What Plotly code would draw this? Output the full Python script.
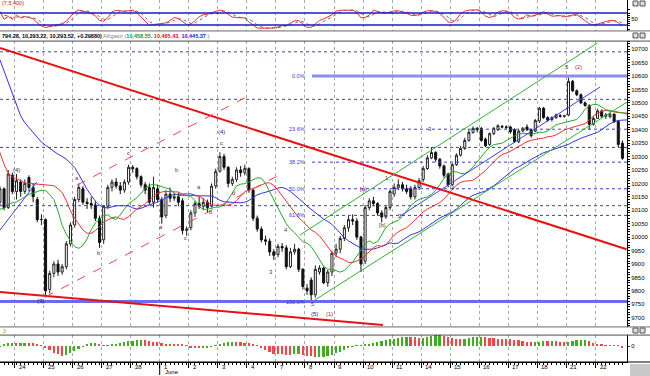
import plotly.graph_objects as go
from plotly.subplots import make_subplots

# ---------------- data (hourly bars, 21 May .. 22 June) ----------------
bar_open = [10130, 10180, 10110, 10230,
            10170, 10205, 10170, 10222, 10185, 10140, 10065,
            10065, 9805, 9865, 9900, 9870, 9890, 9975,
            10045, 10140, 10180, 10130, 10125, 10120, 10070,
            9990, 10115, 10185, 10205, 10190, 10175, 10205,
            10260, 10255, 10225, 10195, 10185, 10130, 10180,
            10140, 10080, 10160, 10145, 10150, 10135, 10025,
            10035, 10090, 10125, 10115, 10130, 10115, 10190,
            10245, 10300, 10260, 10200, 10215, 10250, 10240,
            10255, 10175, 10070, 10030, 9990, 9985, 9945,
            9935, 9965, 9960, 9890, 9945, 9955, 9880,
            9810, 9840, 9785, 9870, 9885, 9830, 9870,
            9940, 9955, 9995, 10035, 10065, 10060, 10000,
            9910, 10110, 10135, 10125, 10090, 10075, 10110,
            10160, 10185, 10195, 10180, 10180, 10150, 10185,
            10215, 10255, 10295, 10315, 10290, 10265, 10235,
            10195, 10270, 10305, 10330, 10360, 10390, 10405,
            10405, 10365, 10345, 10385, 10400, 10412, 10410,
            10410, 10400, 10355, 10395, 10410, 10400, 10395,
            10432, 10480, 10445, 10438, 10445, 10452, 10450,
            10455, 10580, 10545, 10530, 10500, 10490, 10420,
            10442, 10470, 10450, 10448, 10458, 10430, 10350]
bar_high = [10190, 10185, 10250, 10240,
            10235, 10215, 10215, 10230, 10200, 10150, 10085,
            10070, 9875, 9910, 9915, 9900, 9985, 10055,
            10150, 10200, 10190, 10145, 10150, 10135, 10080,
            10120, 10195, 10215, 10220, 10205, 10215, 10270,
            10268, 10260, 10230, 10205, 10200, 10225, 10195,
            10150, 10175, 10185, 10165, 10165, 10145, 10040,
            10100, 10135, 10150, 10145, 10140, 10200, 10255,
            10316, 10310, 10265, 10225, 10260, 10265, 10270,
            10260, 10180, 10080, 10040, 10005, 9995, 9955,
            9975, 9978, 9970, 9960, 9975, 9960, 9885,
            9825, 9850, 9895, 9895, 9890, 9878, 9950,
            9975, 10005, 10045, 10078, 10085, 10070, 10005,
            10120, 10145, 10150, 10130, 10100, 10120, 10178,
            10200, 10215, 10205, 10195, 10190, 10195, 10220,
            10265, 10305, 10335, 10320, 10295, 10270, 10240,
            10275, 10312, 10340, 10370, 10400, 10412, 10410,
            10410, 10370, 10390, 10410, 10420, 10418, 10416,
            10415, 10405, 10400, 10410, 10420, 10405, 10440,
            10485, 10485, 10450, 10450, 10460, 10458, 10456,
            10594, 10585, 10550, 10535, 10505, 10495, 10450,
            10478, 10475, 10462, 10462, 10460, 10435, 10360]
bar_low = [10115, 10100, 10105, 10160,
           10140, 10150, 10160, 10170, 10130, 10055, 10045,
           9776, 9790, 9850, 9855, 9860, 9880, 9965,
           10035, 10130, 10120, 10105, 10105, 10060, 9960,
           9975, 10105, 10170, 10180, 10160, 10165, 10195,
           10240, 10215, 10185, 10160, 10120, 10110, 10130,
           10050, 10070, 10130, 10135, 10115, 10010, 10005,
           10025, 10075, 10105, 10100, 10090, 10110, 10180,
           10240, 10250, 10185, 10190, 10205, 10225, 10230,
           10165, 10060, 10020, 9980, 9970, 9930, 9915,
           9925, 9945, 9880, 9885, 9935, 9870, 9805,
           9785, 9757, 9775, 9860, 9825, 9815, 9855,
           9925, 9940, 9985, 10020, 10045, 9990, 9870,
           9900, 10100, 10115, 10080, 10055, 10068, 10100,
           10150, 10175, 10170, 10160, 10140, 10140, 10175,
           10205, 10250, 10290, 10280, 10255, 10220, 10185,
           10190, 10265, 10300, 10325, 10355, 10385, 10390,
           10355, 10335, 10340, 10380, 10395, 10405, 10402,
           10385, 10350, 10350, 10390, 10395, 10370, 10390,
           10425, 10440, 10430, 10430, 10440, 10445, 10445,
           10450, 10540, 10525, 10495, 10485, 10400, 10415,
           10440, 10445, 10440, 10442, 10425, 10335, 10288]
bar_close = [10180, 10110, 10235, 10170,
             10210, 10170, 10200, 10185, 10150, 10065, 10066,
             9800, 9865, 9900, 9870, 9890, 9975, 10045,
             10140, 10185, 10130, 10125, 10120, 10070, 9980,
             10115, 10185, 10205, 10190, 10175, 10205, 10260,
             10255, 10225, 10195, 10175, 10130, 10185, 10140,
             10075, 10160, 10145, 10150, 10130, 10025, 10030,
             10090, 10125, 10115, 10130, 10110, 10190, 10245,
             10300, 10260, 10200, 10215, 10250, 10240, 10255,
             10175, 10070, 10030, 9990, 9985, 9945, 9932,
             9965, 9960, 9890, 9945, 9955, 9880, 9816,
             9800, 9785, 9880, 9885, 9830, 9870, 9940,
             9955, 9995, 10035, 10065, 10060, 10000, 9900,
             10110, 10135, 10125, 10090, 10075, 10110, 10170,
             10185, 10195, 10180, 10170, 10150, 10185, 10210,
             10255, 10295, 10315, 10290, 10265, 10230, 10195,
             10270, 10305, 10330, 10360, 10390, 10405, 10400,
             10360, 10340, 10385, 10405, 10415, 10410, 10409,
             10392, 10355, 10395, 10405, 10400, 10378, 10434,
             10480, 10445, 10435, 10445, 10455, 10450, 10451,
             10580, 10545, 10530, 10500, 10490, 10420, 10442,
             10470, 10450, 10455, 10458, 10430, 10345, 10293.52]

# estimated median prices of the bars just left of the visible window, and
# the Alligator averages before them (used only to start the indicators)
prior_median = [10180, 10120, 10060, 10000, 9960, 10020, 10120, 10180]
jaw_seed, teeth_seed, lips_seed = 10700, 10480, 10300

day_labels = ["24", "25", "26", "27", "28", "1", "2", "3", "4", "7", "8",
              "9", "10", "11", "14", "15", "16", "17", "18", "21", "22"]
bars_per_day = 7
first_day_bar = 4          # first bar of 24 May

price_ticks = list(range(9700, 10701, 50))

fib_levels = [0.0, 23.6, 38.2, 50.0, 61.8, 100.0]
fib_top, fib_bottom = 10600, 9760
extra_dotted_levels = [10690, 10513, 10334, 10117]

# trend lines: (bar0, price0, bar1, price1)
red_trend = (0.0, 10704, 151.0, 9955)
red_lower = (0.0, 9796, 92.3, 9673)
red_dash_low = (10.9, 9777, 66.8, 10227)
red_dash_up = (18.6, 10194, 60.3, 10529)
green_up = (72.3, 10008, 143.9, 10722)
green_low = (75.9, 9766, 151.1, 10503)
blue_mid = (96.4, 10078, 144.6, 10559)
blue_left = (0.0, 10026, 8.9, 10205)

wave_labels = [  # (bar, price, text, colour)
    (4.1, 10250, "(4)", "#1a1a8c"), (9.7, 9762, "(3)", "#1a1a8c"),
    (18.6, 10220, "a", "#8b2a2a"), (23.9, 9941, "b", "#8b2a2a"),
    (30.9, 10313, "c", "#8b2a2a"), (38.8, 10037, "a", "#8b2a2a"),
    (42.7, 10250, "b", "#8b2a2a"), (44.6, 9997, "c", "#8b2a2a"),
    (48.0, 10186, "a", "#8b2a2a"), (50.9, 10093, "b", "#8b2a2a"),
    (53.5, 10350, "c", "#8b2a2a"), (53.5, 10391, "(4)", "#1a1a8c"),
    (56.2, 10164, "d", "#8b2a2a"), (65.3, 9870, "3", "#8b2a2a"),
    (68.9, 10026, "4", "#8b2a2a"), (75.4, 9751, "5", "#8b2a2a"),
    (75.9, 9714, "(5)", "#1a1a8c"), (79.5, 9714, "(1)", "#e01010"),
    (87.7, 10179, "[a]", "#8b2a2a"), (92.1, 10045, "[b]", "#8b2a2a"),
    (93.3, 10220, "1", "#8b2a2a"), (96.4, 10078, "2", "#8b2a2a"),
    (103.6, 10402, "3", "#8b2a2a"), (109.2, 10183, "4", "#8b2a2a"),
    (136.6, 10633, "5", "#8b2a2a"), (139.3, 10633, "(2)", "#e01010"),
]

# ---------------- indicators ----------------
n = len(bar_close)
idx = list(range(n))
median_all = prior_median + [(h + l) / 2 for h, l in zip(bar_high, bar_low)]
npre = len(prior_median)


def smma(series, period, seed):
    out, s = [], seed
    for v in series:
        s = (s * (period - 1) + v) / period
        out.append(s)
    return out


jaw_all = smma(median_all, 13, jaw_seed)
teeth_all = smma(median_all, 8, teeth_seed)
lips_all = smma(median_all, 5, lips_seed)
jaw_x = [k - npre + 8 for k in range(len(jaw_all))]
teeth_x = [k - npre + 5 for k in range(len(teeth_all))]
lips_x = [k - npre + 3 for k in range(len(lips_all))]

# stochastic (7, slowing 3, signal 3)
raw_k = []
for i in range(n):
    lo = min(bar_low[max(0, i - 6):i + 1])
    hi = max(bar_high[max(0, i - 6):i + 1])
    raw_k.append(100 * (bar_close[i] - lo) / (hi - lo) if hi > lo else 50)


def sma(series, p):
    return [sum(series[max(0, i - p + 1):i + 1]) / len(series[max(0, i - p + 1):i + 1])
            for i in range(len(series))]


slow_k = sma(raw_k, 3)
sig_d = sma(slow_k, 3)

# awesome oscillator
ao_all = [a - b for a, b in zip(sma(median_all, 5), sma(median_all, 34))]
ao = ao_all[npre:]
ao_col = ["#44aa22" if i == 0 or ao[i] >= ao[i - 1] else "#f04848" for i in range(n)]
ao_max = max(abs(v) for v in ao)
ao_scale = ao_max / 11.0

# ---------------- figure ----------------
fig = make_subplots(rows=3, cols=1, shared_xaxes=True)

PLOT_H = 362.0
PLOT_W = 627.0


def py(p):
    return (PLOT_H - p) / PLOT_H


def px(p):
    return p / PLOT_W


xr = [0.02, 151.1]

# oscillator
fig.add_trace(go.Scatter(x=idx, y=sig_d, mode="lines",
                         line=dict(color="#707070", width=1, dash="dot"),
                         hoverinfo="skip"), row=1, col=1)
fig.add_trace(go.Scatter(x=idx, y=slow_k, mode="lines",
                         line=dict(color="#f03030", width=1),
                         hoverinfo="skip"), row=1, col=1)

# main: alligator
fig.add_trace(go.Scatter(x=jaw_x, y=jaw_all, mode="lines",
                         line=dict(color="#3030e8", width=1), hoverinfo="skip"), row=2, col=1)
fig.add_trace(go.Scatter(x=teeth_x, y=teeth_all, mode="lines",
                         line=dict(color="#f03030", width=1), hoverinfo="skip"), row=2, col=1)
fig.add_trace(go.Scatter(x=lips_x, y=lips_all, mode="lines",
                         line=dict(color="#22aa22", width=1), hoverinfo="skip"), row=2, col=1)

# candles
fig.add_trace(go.Candlestick(
    x=idx, open=bar_open, high=bar_high, low=bar_low, close=bar_close,
    increasing=dict(fillcolor="white", line=dict(color="#222222", width=1)),
    decreasing=dict(fillcolor="#111111", line=dict(color="#111111", width=1)),
    whiskerwidth=0, hoverinfo="skip"), row=2, col=1)

# AO
fig.add_trace(go.Bar(x=idx, y=ao, marker=dict(color=ao_col, line=dict(width=0)),
                     width=0.42, hoverinfo="skip"), row=3, col=1)

shapes = []


def seg(t, color, width, dash="solid"):
    shapes.append(dict(type="line", xref="x2", yref="y2", x0=t[0], y0=t[1],
                       x1=t[2], y1=t[3], line=dict(color=color, width=width, dash=dash)))


# horizontal dotted levels
for lv in extra_dotted_levels:
    shapes.append(dict(type="line", xref="x2", yref="y2", x0=xr[0], x1=xr[1], y0=lv, y1=lv,
                       line=dict(color="#3a3ad8", width=1, dash="dot")))
fib_start = 75.2
for f in fib_levels:
    lv = fib_top - (fib_top - fib_bottom) * f / 100
    if f == 0.0:
        shapes.append(dict(type="line", xref="x2", yref="y2", x0=fib_start, x1=xr[1], y0=lv, y1=lv,
                           line=dict(color="#8c8cf0", width=3)))
    elif f == 100.0:
        shapes.append(dict(type="line", xref="x2", yref="y2", x0=xr[0], x1=xr[1], y0=lv, y1=lv,
                           line=dict(color="#6a6af0", width=3)))
    else:
        shapes.append(dict(type="line", xref="x2", yref="y2", x0=fib_start, x1=xr[1], y0=lv, y1=lv,
                           line=dict(color="#3a3ad8", width=1, dash="dot")))

seg(red_trend, "#e81010", 2)
seg(red_lower, "#e81010", 2)
seg(red_dash_low, "#f04848", 1, "dash")
seg(red_dash_up, "#f04848", 1, "dash")
seg(green_up, "#30b030", 1)
seg(green_low, "#30b030", 1)
seg(blue_mid, "#4040e8", 1)
seg(blue_left, "#4040e8", 1)

# top oscillator levels
for lv in (80, 20):
    shapes.append(dict(type="line", xref="x", yref="y", x0=xr[0], x1=xr[1], y0=lv, y1=lv,
                       line=dict(color="#1c1ccc", width=1.5)))

# panel frames
for yy, col in ((31, "#555555"), (41, "#333333"), (327, "#555555"), (335, "#333333"), (362, "#000000")):
    shapes.append(dict(type="line", xref="paper", yref="paper", x0=0, x1=1.037,
                       y0=py(yy), y1=py(yy), line=dict(color=col, width=1)))
# header strips background
for y0, y1 in ((31, 41), (327, 335)):
    shapes.append(dict(type="rect", xref="paper", yref="paper", x0=0, x1=1.037,
                       y0=py(y1) + 0.002, y1=py(y0) - 0.002, fillcolor="white",
                       line=dict(width=0), layer="above"))
# window icons
for yy in (1, 33, 328):
    for xx in (633, 640):
        shapes.append(dict(type="rect", xref="paper", yref="paper", x0=px(xx), x1=px(xx + 5),
                           y0=py(yy + 5), y1=py(yy), fillcolor="#dddddd",
                           line=dict(color="#555555", width=1), layer="above"))
# june tick and corner box
shapes.append(dict(type="line", xref="x3", yref="paper", x0=first_day_bar - 0.5 + 5 * bars_per_day,
                   x1=first_day_bar - 0.5 + 5 * bars_per_day, y0=py(362), y1=py(375),
                   line=dict(color="black", width=1)))
shapes.append(dict(type="rect", xref="paper", yref="paper", x0=px(630), x1=px(650),
                   y0=py(376), y1=py(364), fillcolor="#c8c8c8", line=dict(width=0)))

annotations = []
for b, p, t, c in wave_labels:
    annotations.append(dict(x=b, y=p, xref="x2", yref="y2", text=t, showarrow=False,
                            font=dict(size=6, color=c, family="Liberation Sans"),
                            xanchor="center", yanchor="middle"))
for f in fib_levels:
    lv = fib_top - (fib_top - fib_bottom) * f / 100
    annotations.append(dict(x=74.0, y=lv, xref="x2", yref="y2", text=f"{f:.1f}%",
                            showarrow=False, xanchor="right", yanchor="middle",
                            font=dict(size=5.5, color="#3a3ad8", family="Liberation Sans")))

day_bounds = [first_day_bar - 0.5 + d * bars_per_day for d in range(len(day_labels))]
for b, t in zip(day_bounds, day_labels):
    annotations.append(dict(x=b + 0.5, y=py(366.5), xref="x3", yref="paper", text=t,
                            showarrow=False, xanchor="left", yanchor="middle",
                            font=dict(size=6, color="black", family="Liberation Sans")))
annotations.append(dict(x=day_bounds[5] + 0.7, y=py(372.5), xref="x3", yref="paper", text="June",
                        showarrow=False, xanchor="left", yanchor="middle",
                        font=dict(size=6, color="black", family="Liberation Sans")))

header = ("<b>794.28, 10,293.22, 10,293.52, +0.29880)</b> "
          "<span style='color:#808080'>Alligator (</span>"
          "<span style='color:#119911'><b>10,458.55,</b></span> "
          "<span style='color:#e01010'><b>10,465.43,</b></span> "
          "<span style='color:#1a1ae0'><b>10,445.37</b></span>"
          "<span style='color:#808080'> )</span>")
annotations.append(dict(x=0, y=py(36), xref="paper", yref="paper", text=header, showarrow=False,
                        xanchor="left", yanchor="middle",
                        font=dict(size=5.5, color="black", family="Liberation Sans")))
annotations.append(dict(x=0, y=py(3), xref="paper", yref="paper", text="(7,5,400)", showarrow=False,
                        xanchor="left", yanchor="middle",
                        font=dict(size=5.5, color="#e01010", family="Liberation Sans")))
annotations.append(dict(x=px(1), y=py(331), xref="paper", yref="paper", text="3", showarrow=False,
                        xanchor="left", yanchor="middle",
                        font=dict(size=5.5, color="#e08020", family="Liberation Sans")))

tickfont = dict(size=6, color="black", family="Liberation Sans")
xcommon = dict(range=xr, showgrid=True, gridcolor="#a8a8a8", griddash="dot", gridwidth=1,
               tickmode="array", tickvals=day_bounds, zeroline=False, rangeslider=dict(visible=False))

fig.update_layout(
    width=650, height=376, margin=dict(l=0, r=23, t=0, b=14, pad=0),
    paper_bgcolor="white", plot_bgcolor="white", showlegend=False,
    shapes=shapes, annotations=annotations, bargap=0,
    xaxis=dict(**xcommon, showticklabels=False, ticks=""),
    xaxis2=dict(**xcommon, showticklabels=False, ticks=""),
    xaxis3=dict(**xcommon, showticklabels=False, ticks="outside", ticklen=5, tickcolor="black",
                showline=True, linecolor="black", linewidth=1,
                minor=dict(tickmode="array", tickvals=idx, ticks="outside", ticklen=2,
                           tickcolor="black", showgrid=False)),
    yaxis=dict(domain=[py(31), 1.0], range=[-10, 145], side="right", tickvals=[50],
               ticktext=["50"], tickfont=tickfont, showgrid=False, zeroline=False,
               showline=True, linecolor="black", ticks="outside", ticklen=2,
               minor=dict(tickmode="array", tickvals=[0, 20, 30, 40, 60, 70, 80, 100],
                          ticks="outside", ticklen=1.5, tickcolor="black")),
    yaxis2=dict(domain=[py(327), py(41)], range=[9665.3, 10730.2], side="right",
                tickvals=price_ticks, ticktext=[str(v) for v in price_ticks], tickfont=tickfont,
                showgrid=False, zeroline=False, showline=True, linecolor="black",
                ticks="outside", ticklen=2, tickcolor="black",
                minor=dict(dtick=10, ticks="outside", ticklen=1.5, tickcolor="black")),
    yaxis3=dict(domain=[0, py(335)], range=[-16 * ao_scale, 11 * ao_scale], side="right",
                tickvals=[0], ticktext=["0"], tickfont=tickfont, showgrid=False, zeroline=False,
                showline=True, linecolor="black", ticks="outside", ticklen=2),
)

fig.write_html("out.html", config={"displayModeBar": False},
               post_script="document.body.style.margin='0';document.body.style.overflow='hidden';")
